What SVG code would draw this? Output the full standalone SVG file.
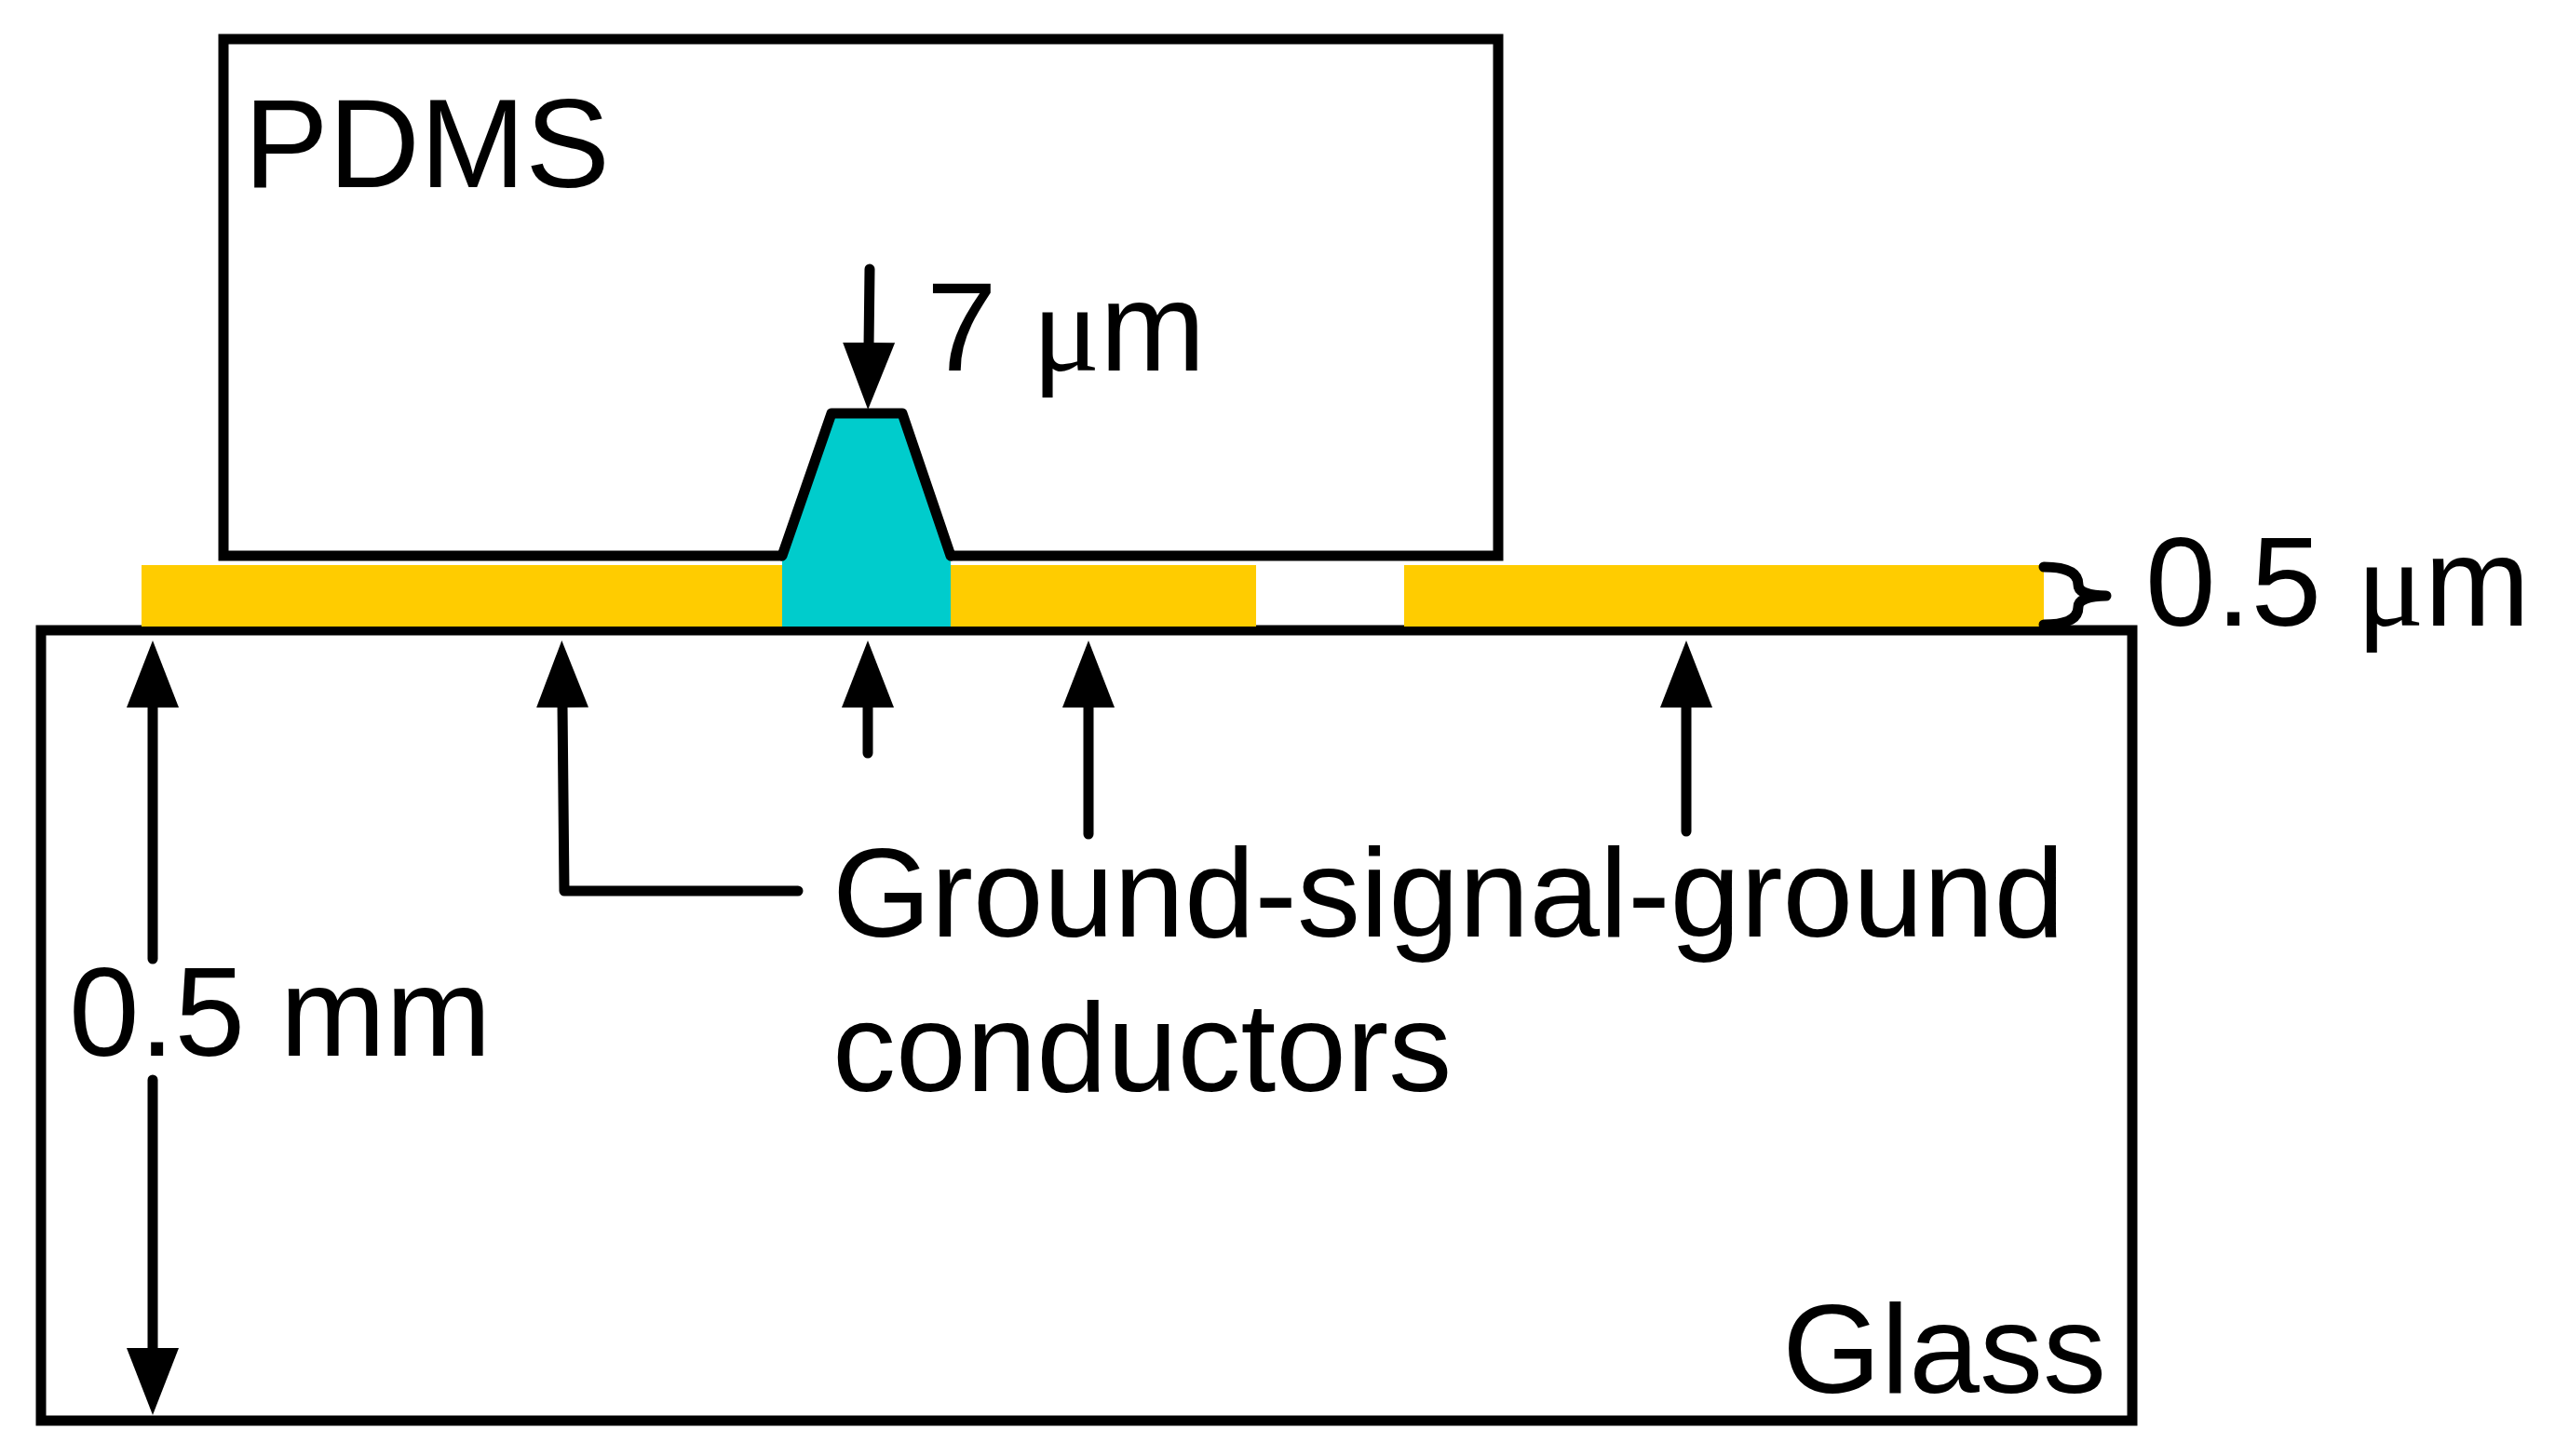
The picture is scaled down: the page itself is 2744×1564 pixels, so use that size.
<svg xmlns="http://www.w3.org/2000/svg" width="2744" height="1564" viewBox="0 0 2744 1564">
<style>
.box{fill:none;stroke:#000;stroke-width:11}
.ln{fill:none;stroke:#000;stroke-width:11;stroke-linecap:round;stroke-linejoin:round}
.t{font-family:"Liberation Sans",Arial,sans-serif;font-size:136px;fill:#000}
.mu{font-family:"Liberation Serif",serif}
.gold{fill:#FFCC00}
</style>
<defs>
<marker id="ah" markerUnits="userSpaceOnUse" markerWidth="72" markerHeight="56" refX="4" refY="28" orient="auto" viewBox="0 0 72 56">
<path d="M0,0 L72,28 L0,56 Z" fill="#000"/>
</marker>
</defs>
<rect width="2744" height="1564" fill="#fff"/>
<g id="pdms">
<path class="box" d="M840,597 L240,597 L240,42 L1609,42 L1609,597 L1021,597"/>
<text class="t" x="262" y="201">PDMS</text>
</g>
<g id="glass">
<rect class="box" x="44" y="677" width="2246" height="849"/>
<text class="t" x="2262" y="1496" text-anchor="end">Glass</text>
</g>
<g id="conductors">
<rect class="gold" x="152" y="607" width="690" height="66"/>
<rect class="gold" x="1019" y="607" width="330" height="66"/>
<rect class="gold" x="1508" y="607" width="687" height="66"/>
<path d="M840,673 L840,597 L893,444 L969,444 L1021,597 L1021,673 Z" fill="#00CCCC"/>
<path class="ln" d="M840,597 L893,444 L969,444 L1021,597"/>
</g>
<g id="labels">
<text class="t" x="995" y="398">7 <tspan class="mu">μ</tspan>m</text>
<text class="t" x="2304" y="672">0.5 <tspan class="mu">μ</tspan>m</text>
<text class="t" x="74" y="1134">0.5 mm</text>
<text class="t" x="894" y="1006">Ground-signal-ground</text>
<text class="t" x="894" y="1172">conductors</text>
</g>
<g id="connectors">
<path class="ln" d="M934,289 L933,372" marker-end="url(#ah)"/>
<path class="ln" d="M932,809 L932,756" marker-end="url(#ah)"/>
<path class="ln" d="M1169,896 L1169,756" marker-end="url(#ah)"/>
<path class="ln" d="M1811,893 L1811,756" marker-end="url(#ah)"/>
<path class="ln" d="M857,957 L606,957 L604,756" marker-end="url(#ah)"/>
<path class="ln" d="M164,1030 L164,756" marker-end="url(#ah)"/>
<path class="ln" d="M164,1160 L164,1452" marker-end="url(#ah)"/>
<path class="ln" d="M2195,609 C2225,609 2232,618 2232,628 C2232,636 2244,640 2262,640 C2244,640 2232,644 2232,652 C2232,662 2225,671 2195,671"/>
</g>
</svg>
